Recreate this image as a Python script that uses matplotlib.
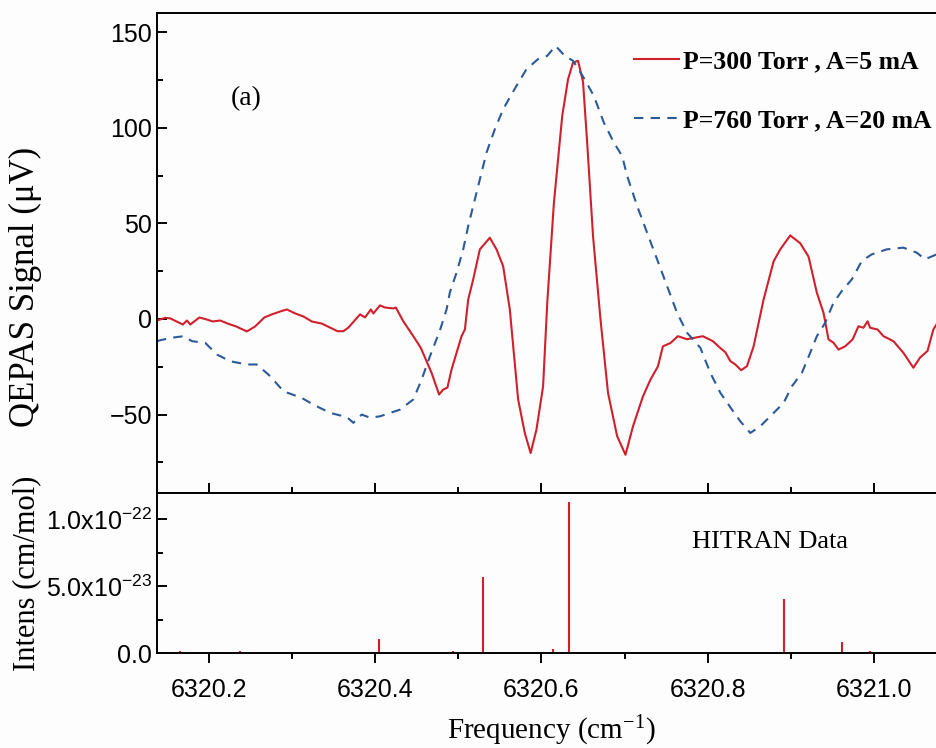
import numpy as np
import matplotlib
matplotlib.use("Agg")
import matplotlib.pyplot as plt
from matplotlib.ticker import MultipleLocator, FixedLocator, FuncFormatter

plt.rcParams["font.family"] = "Liberation Sans"
plt.rcParams["mathtext.default"] = "regular"

# QEPAS signal, P=300 Torr, A=5 mA
red_freq = [6320.138, 6320.148, 6320.154, 6320.169, 6320.174, 6320.178, 6320.189, 6320.198, 6320.205, 6320.214,
            6320.223, 6320.233, 6320.246, 6320.256, 6320.267, 6320.276, 6320.286, 6320.294, 6320.304, 6320.314,
            6320.324, 6320.336, 6320.346, 6320.355, 6320.362, 6320.368, 6320.382, 6320.388, 6320.395, 6320.398,
            6320.406, 6320.412, 6320.422, 6320.425, 6320.434, 6320.446, 6320.455, 6320.468, 6320.477, 6320.482,
            6320.487, 6320.492, 6320.504, 6320.508, 6320.512, 6320.518, 6320.526, 6320.538, 6320.546, 6320.554,
            6320.562, 6320.572, 6320.580, 6320.587, 6320.594, 6320.602, 6320.607, 6320.615, 6320.625, 6320.632,
            6320.638, 6320.644, 6320.650, 6320.655, 6320.662, 6320.671, 6320.680, 6320.691, 6320.701, 6320.710,
            6320.722, 6320.731, 6320.740, 6320.746, 6320.755, 6320.764, 6320.775, 6320.794, 6320.806, 6320.815,
            6320.821, 6320.827, 6320.833, 6320.840, 6320.847, 6320.855, 6320.867, 6320.879, 6320.887, 6320.899,
            6320.911, 6320.921, 6320.931, 6320.939, 6320.945, 6320.951, 6320.957, 6320.965, 6320.974, 6320.981,
            6320.987, 6320.992, 6320.995, 6321.004, 6321.011, 6321.023, 6321.035, 6321.047, 6321.055, 6321.064,
            6321.071, 6321.076]
red_sig = [-0.8, 0.6, 0.3, -2.9, -0.8, -2.9, 0.8, -0.3, -1.3, -0.8,
           -2.4, -3.9, -6.5, -3.9, 0.8, 2.4, 3.9, 5.0, 2.9, 1.3,
           -1.3, -2.4, -4.5, -6.4, -6.4, -4.5, 2.4, 0.8, 5.0, 2.9,
           7.1, 6.0, 5.5, 6.0, -1.2, -9.0, -15.1, -28.2, -39.5, -36.9,
           -35.9, -26.4, -9.0, -5.5, 10.2, 20.7, 36.4, 42.5, 36.4, 27.6,
           5.0, -42.1, -59.6, -70.1, -57.9, -35.2, 8.5, 60.8, 106.2, 125.4,
           134.1, 135.0, 124.0, 92.0, 43.4, -0.3, -38.6, -61.3, -71.0, -56.2,
           -40.5, -31.7, -24.8, -14.3, -12.6, -9.0, -10.6, -9.0, -11.6, -15.2,
           -17.4, -22.0, -23.8, -26.8, -24.7, -14.3, 10.2, 30.1, 36.4, 43.7,
           39.6, 32.6, 13.7, 3.2, -10.7, -12.4, -16.0, -14.3, -10.7, -3.8,
           -4.6, -1.2, -4.6, -5.5, -9.0, -11.6, -17.7, -25.5, -20.2, -16.7,
           -5.5, -2.0]

# QEPAS signal, P=760 Torr, A=20 mA
blue_freq = [6320.138, 6320.143, 6320.156, 6320.170, 6320.180, 6320.196, 6320.210, 6320.226, 6320.246, 6320.258,
             6320.274, 6320.290, 6320.312, 6320.326, 6320.346, 6320.366, 6320.374, 6320.384, 6320.394, 6320.406,
             6320.430, 6320.446, 6320.456, 6320.466, 6320.478, 6320.486, 6320.490, 6320.498, 6320.506, 6320.512,
             6320.518, 6320.526, 6320.534, 6320.544, 6320.554, 6320.570, 6320.582, 6320.596, 6320.607, 6320.617,
             6320.628, 6320.638, 6320.647, 6320.653, 6320.663, 6320.675, 6320.687, 6320.697, 6320.703, 6320.715,
             6320.727, 6320.739, 6320.751, 6320.763, 6320.775, 6320.791, 6320.803, 6320.815, 6320.829, 6320.839,
             6320.851, 6320.863, 6320.875, 6320.891, 6320.901, 6320.913, 6320.923, 6320.931, 6320.941, 6320.951,
             6320.961, 6320.973, 6320.985, 6320.997, 6321.015, 6321.035, 6321.051, 6321.061, 6321.075]
blue_sig = [-11.6, -11.0, -9.8, -9.0, -11.6, -12.5, -18.6, -22.1, -23.8, -23.8,
            -29.9, -37.8, -41.3, -44.8, -49.1, -51.3, -54.3, -50.0, -51.6, -50.9,
            -47.4, -42.1, -31.7, -19.5, -6.0, 5.0, 14.0, 24.2, 36.4, 48.6,
            59.1, 73.0, 87.0, 99.2, 109.7, 121.9, 130.6, 135.9, 137.6, 142.8,
            137.6, 135.0, 128.9, 124.5, 116.6, 102.7, 92.3, 85.2, 74.8, 59.1,
            45.1, 31.2, 17.2, 3.2, -7.2, -15.1, -28.2, -38.6, -47.4, -53.5,
            -59.6, -56.1, -50.9, -43.9, -35.2, -28.2, -17.7, -9.0, -2.0, 8.5,
            14.6, 20.7, 30.3, 33.8, 36.4, 37.3, 34.7, 31.2, 33.8]

# HITRAN line intensities
hitran_freq = [6320.166, 6320.238, 6320.405, 6320.494, 6320.530, 6320.614, 6320.633, 6320.891, 6320.961, 6320.995]
hitran_int = [1.5e-24, 1.5e-24, 1.1e-23, 1.5e-24, 5.7e-23, 3.0e-24, 1.124e-22, 4.05e-23, 8.2e-24, 2.0e-24]

red = "#d0202c"
blue = "#2c5a98"
serif = "Liberation Serif"

fig = plt.figure(figsize=(9.37, 7.48), dpi=100)
fig.patch.set_facecolor("#fdfdfd")
ax1 = fig.add_axes([157 / 937, 1 - 493 / 748, 788 / 937, 480 / 748])
ax2 = fig.add_axes([157 / 937, 1 - 653.3 / 748, 788 / 937, 160.3 / 748])
xlim = (6320.138, 6321.085)

ax1.plot(red_freq, red_sig, color=red, lw=1.5, label="P=300 Torr , A=5 mA")
ax1.plot(blue_freq, blue_sig, color=blue, lw=1.5, linestyle=(0, (4.5, 3.5)),
         label="P=760 Torr , A=20 mA")
ax1.set_xlim(xlim)
ax1.set_ylim(-91, 160)
ax1.yaxis.set_major_locator(MultipleLocator(50))
ax1.yaxis.set_minor_locator(MultipleLocator(25))
ax1.xaxis.set_major_locator(MultipleLocator(0.2))
ax1.xaxis.set_minor_locator(MultipleLocator(0.1))
ax1.tick_params(axis="both", which="both", direction="in", labelsize=18, width=1.4)
ax1.tick_params(which="major", length=7)
ax1.tick_params(which="minor", length=4)
ax1.tick_params(axis="x", labelbottom=False)
ax1.set_ylabel("QEPAS Signal (\u03bcV)", family=serif, fontsize=25)
ax1.yaxis.set_label_coords(-0.146, 0.43)
ax1.text(6320.245, 115, "(a)", family=serif, fontsize=20, ha="center", va="center")
leg = ax1.legend(loc="upper left", bbox_to_anchor=(634 / 937, 1 - 50 / 748),
                 bbox_transform=fig.transFigure, frameon=False,
                 prop={"family": serif, "weight": "bold", "size": 18.5},
                 handlelength=1.75, handletextpad=0.15, labelspacing=1.4, borderpad=0,
                 borderaxespad=0)

ax2.vlines(hitran_freq, 0, hitran_int, color=red, lw=1.5)
ax2.set_xlim(xlim)
ax2.set_ylim(0, 1.194e-22)
ax2.xaxis.set_major_locator(MultipleLocator(0.2))
ax2.xaxis.set_minor_locator(MultipleLocator(0.1))
ax2.xaxis.set_major_formatter(FuncFormatter(lambda v, p: f"{v:.1f}"))
ax2.yaxis.set_major_locator(FixedLocator([0, 5e-23, 1e-22]))
ax2.yaxis.set_minor_locator(FixedLocator([2.5e-23, 7.5e-23]))


def sci_fmt(v, pos):
    if v == 0:
        return "0.0"
    e = int(np.floor(np.log10(v)))
    return f"{v / 10**e:.1f}x10$^{{{e}}}$"


ax2.yaxis.set_major_formatter(FuncFormatter(sci_fmt))
ax2.tick_params(axis="y", which="both", direction="in", width=1.4)
ax2.tick_params(axis="x", which="both", direction="out", width=1.4)
ax2.tick_params(which="major", length=7, labelsize=18)
ax2.tick_params(axis="x", which="major", pad=11)
ax2.tick_params(which="minor", length=4)
ax2.set_ylabel("Intens (cm/mol)", family=serif, fontsize=22)
ax2.yaxis.set_label_coords(-0.147, 0.5)
ax2.set_xlabel("Frequency (cm$^{-1}$)", family=serif, fontsize=21, labelpad=8)
ax2.text(6320.875, 8.3e-23, "HITRAN Data", family=serif, fontsize=19, ha="center", va="center")

for ax in (ax1, ax2):
    ax.set_facecolor("#fdfdfd")
    for s in ax.spines.values():
        s.set_linewidth(1.4)

fig.savefig("out.png", dpi=100, facecolor=fig.get_facecolor())
